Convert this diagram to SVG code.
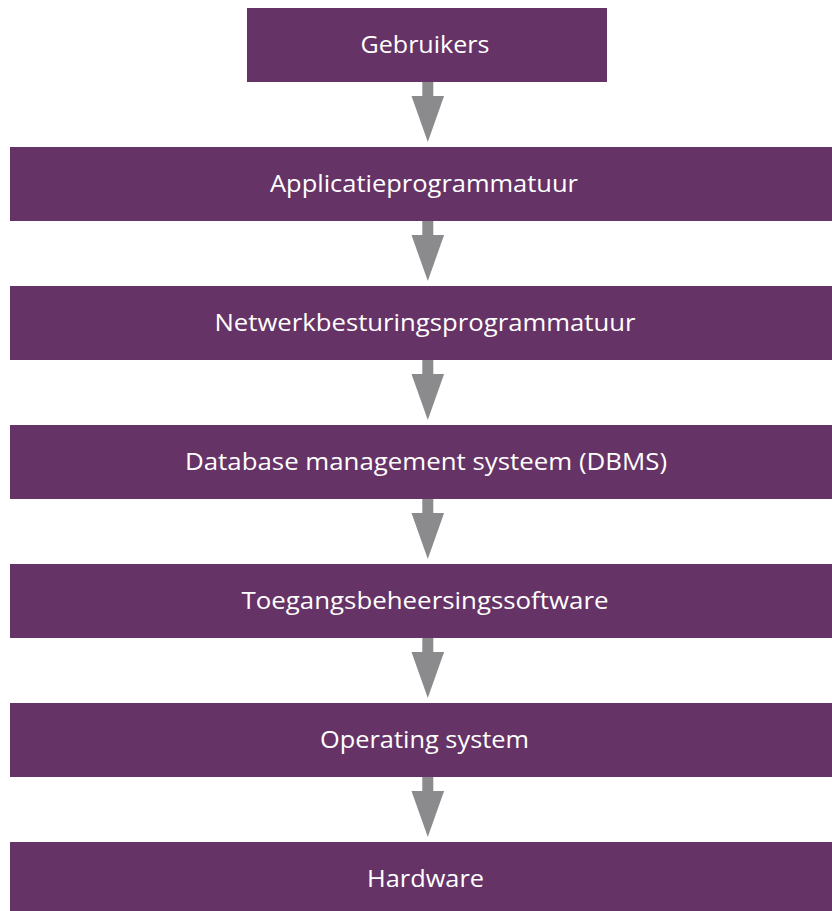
<svg xmlns="http://www.w3.org/2000/svg" width="832" height="911" viewBox="0 0 832 911">
  <defs>
    <style>
      .box { fill: #663366; }
      .lbl { fill: #ffffff; font-family: "Open Sans", "Liberation Sans", sans-serif; font-size: 24px; font-weight: 400; text-anchor: middle; }
      .arrow { fill: #8b8b8e; }
    </style>
    <!-- down arrow: shaft plus triangular head, origin at the top of the shaft -->
    <polygon id="down" points="-5.5,0 5.5,0 5.5,14 16.3,14 0,60 -16.3,14 -5.5,14"/>
  </defs>
  <rect width="832" height="911" fill="#ffffff"/>

  <g id="connectors" class="arrow">
    <use href="#down" x="427.8" y="82"/>
    <use href="#down" x="427.8" y="221"/>
    <use href="#down" x="427.8" y="360"/>
    <use href="#down" x="427.8" y="499"/>
    <use href="#down" x="427.8" y="638"/>
    <use href="#down" x="427.8" y="777"/>
  </g>

  <g id="gebruikers">
    <rect class="box" x="247" y="8" width="360" height="74"/>
    <text class="lbl" x="425" y="53" textLength="129" lengthAdjust="spacingAndGlyphs">Gebruikers</text>
  </g>
  <g id="applicatieprogrammatuur">
    <rect class="box" x="10" y="147" width="822" height="74"/>
    <text class="lbl" x="424" y="192" textLength="308" lengthAdjust="spacingAndGlyphs">Applicatieprogrammatuur</text>
  </g>
  <g id="netwerkbesturingsprogrammatuur">
    <rect class="box" x="10" y="286" width="822" height="74"/>
    <text class="lbl" x="425" y="331" textLength="421" lengthAdjust="spacingAndGlyphs">Netwerkbesturingsprogrammatuur</text>
  </g>
  <g id="dbms">
    <rect class="box" x="10" y="425" width="822" height="74"/>
    <text class="lbl" x="426" y="470" textLength="482" lengthAdjust="spacingAndGlyphs">Database management systeem (DBMS)</text>
  </g>
  <g id="toegangsbeheersingssoftware">
    <rect class="box" x="10" y="564" width="822" height="74"/>
    <text class="lbl" x="425" y="609" textLength="367" lengthAdjust="spacingAndGlyphs">Toegangsbeheersingssoftware</text>
  </g>
  <g id="operating-system">
    <rect class="box" x="10" y="703" width="822" height="74"/>
    <text class="lbl" x="424.5" y="748" textLength="209" lengthAdjust="spacingAndGlyphs">Operating system</text>
  </g>
  <g id="hardware">
    <rect class="box" x="10" y="842" width="822" height="69"/>
    <text class="lbl" x="425.5" y="887" textLength="117" lengthAdjust="spacingAndGlyphs">Hardware</text>
  </g>
</svg>
